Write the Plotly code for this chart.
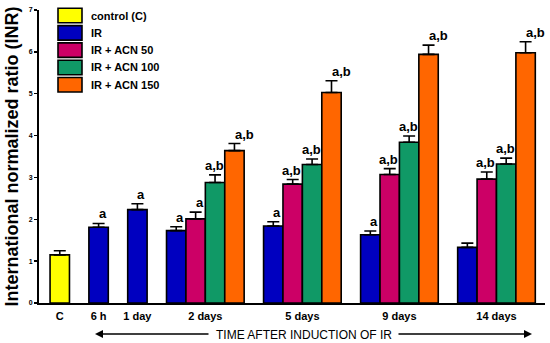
import plotly.graph_objects as go

# ---------------- data ----------------
categories = ["C", "6 h", "1 day", "2 days", "5 days", "9 days", "14 days"]
series_names = ["control (C)", "IR", "IR + ACN 50", "IR + ACN 100", "IR + ACN 150"]

control_vals = [1.15]
control_err = [0.10]
control_cats = ["C"]

ir_vals = [1.81, 2.23, 1.73, 1.84, 1.63, 1.33]
ir_err = [0.09, 0.14, 0.09, 0.10, 0.09, 0.10]
ir_cats = ["6 h", "1 day", "2 days", "5 days", "9 days", "14 days"]
ir_labels = ["a", "a", "a", "a", "a", ""]

acn50_vals = [2.01, 2.84, 3.07, 2.96]
acn50_err = [0.16, 0.11, 0.14, 0.17]
acn50_labels = ["a", "a,b", "a,b", "a,b"]

acn100_vals = [2.88, 3.31, 3.84, 3.32]
acn100_err = [0.18, 0.13, 0.15, 0.14]
acn100_labels = ["a,b", "a,b", "a,b", "a,b"]

acn150_vals = [3.64, 5.03, 5.94, 5.98]
acn150_err = [0.17, 0.28, 0.22, 0.26]
acn150_labels = ["a,b", "a,b", "a,b", "a,b"]

multi_cats = ["2 days", "5 days", "9 days", "14 days"]

y_ticks = [0, 1, 2, 3, 4, 5, 6, 7]

# ---------------- layout of slots ----------------
n_bars = {"C": 1, "6 h": 1, "1 day": 1, "2 days": 4, "5 days": 4, "9 days": 4, "14 days": 4}
start = {}
s = 0
for c in categories:
    start[c] = s
    s += n_bars[c] + 1
centers = [start[c] + (n_bars[c] - 1) / 2 for c in categories]

def pos(cats, idx_in_group):
    return [start[c] + (idx_in_group if n_bars[c] > 1 else 0) for c in cats]

colors = ["#FFFF00", "#0000C0", "#CC0066", "#109966", "#FF6600"]
FONT = "Liberation Sans, Arial, sans-serif"

traces_spec = [
    (control_cats, control_vals, control_err, [""], 0, 0),
    (ir_cats, ir_vals, ir_err, ir_labels, 0, 4),
    (multi_cats, acn50_vals, acn50_err, acn50_labels, 1, None),
    (multi_cats, acn100_vals, acn100_err, acn100_labels, 2, -1),
    (multi_cats, acn150_vals, acn150_err, acn150_labels, 3, 10),
]

fig = go.Figure()
annotations = []
for k, (cats, vals, errs, labs, gi, shift) in enumerate(traces_spec):
    xs = pos(cats, gi)
    fig.add_trace(go.Bar(
        x=xs, y=vals, width=1, name=series_names[k],
        marker=dict(color=colors[k], line=dict(color="black", width=1.6)),
        error_y=dict(type="data", array=errs, arrayminus=[0] * len(errs),
                     color="black", thickness=1.6, width=6),
        showlegend=False, hoverinfo="skip",
    ))
    for x, v, e, lab in zip(xs, vals, errs, labs):
        if not lab:
            continue
        sh = shift if shift is not None else (4 if lab == "a" else -1)
        annotations.append(dict(
            x=x, y=v + e, xref="x", yref="y", text=lab, showarrow=False,
            xanchor="center", yanchor="bottom", xshift=sh, yshift=0,
            font=dict(family=FONT, size=13, color="black", weight="bold"),
        ))

# plot area in pixels
L, R, T, B = 39, 5, 10, 40
W, H = 550, 343
PW, PH = W - L - R, H - T - B

def PX(x):
    return (x - L) / PW

def PY(y):
    return (H - B - y) / PH

# legend drawn manually
shapes = []
for k, name in enumerate(series_names):
    top = 8.3 + k * 17.3
    shapes.append(dict(type="rect", xref="paper", yref="paper",
                       x0=PX(58), x1=PX(82), y0=PY(top + 14.5), y1=PY(top),
                       fillcolor=colors[k], line=dict(color="black", width=1.6)))
    annotations.append(dict(x=PX(89), y=PY(top + 7.25), xref="paper", yref="paper",
                            text=name, showarrow=False, xanchor="left", yanchor="middle",
                            font=dict(family=FONT, size=11, color="black", weight="bold")))

# y axis title
annotations.append(dict(x=PX(11), y=0.5, xref="paper", yref="paper",
                        text="International normalized ratio (INR)", textangle=-90,
                        showarrow=False, xanchor="center", yanchor="middle",
                        font=dict(family=FONT, size=18, color="black", weight="bold")))

# bottom arrow caption
annotations.append(dict(x=PX(303.5), y=PY(335), xref="paper", yref="paper",
                        text="TIME AFTER INDUCTION OF IR", showarrow=False,
                        xanchor="center", yanchor="middle",
                        font=dict(family=FONT, size=12, color="black")))
annotations.append(dict(x=PX(95), y=PY(334), xref="paper", yref="paper", text="",
                        showarrow=True, ax=115, ay=0, arrowhead=2, arrowsize=1,
                        arrowwidth=1.6, arrowcolor="black"))
annotations.append(dict(x=PX(532), y=PY(334), xref="paper", yref="paper", text="",
                        showarrow=True, ax=-135, ay=0, arrowhead=2, arrowsize=1,
                        arrowwidth=1.6, arrowcolor="black"))

fig.update_layout(
    width=W, height=H,
    margin=dict(l=L, r=R, t=T, b=B, pad=0),
    plot_bgcolor="white", paper_bgcolor="white",
    barmode="overlay", hovermode=False,
    shapes=shapes, annotations=annotations,
    xaxis=dict(range=[-1.07, 25.0], tickvals=centers, ticktext=categories,
               showline=True, linecolor="black", linewidth=2, showgrid=False,
               zeroline=False, ticks="", ticklabelstandoff=2,
               tickfont=dict(family=FONT, size=11, color="black", weight="bold")),
    yaxis=dict(range=[0, 7], tickvals=y_ticks, showline=True, linecolor="black",
               linewidth=2, showgrid=False, zeroline=False, ticks="outside",
               ticklen=3, tickwidth=1.5, tickcolor="black",
               tickfont=dict(family=FONT, size=7, color="black", weight="bold")),
)

fig.write_html("out.html", config={"displayModeBar": False, "staticPlot": True},
               post_script="document.body.style.margin='0';document.body.style.padding='0';"
                           "document.body.style.overflow='hidden';")
